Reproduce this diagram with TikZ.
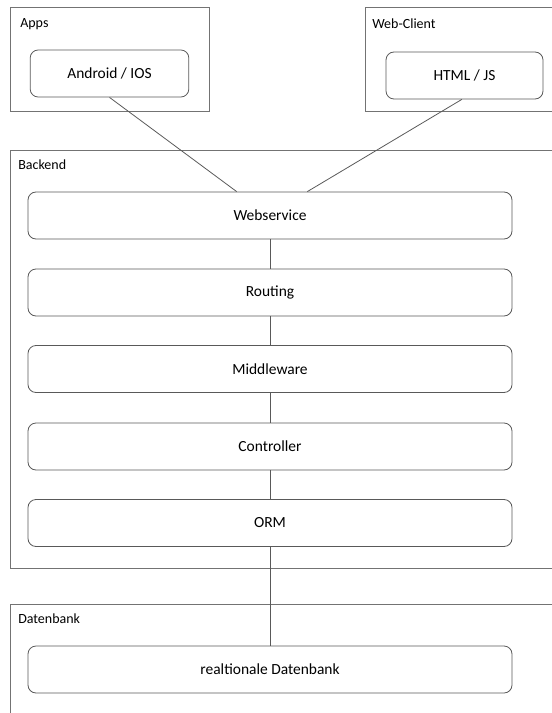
\documentclass[tikz,border=0pt]{standalone}
\usepackage{fontspec}
\setmainfont{Carlito}
\usepackage{xcolor}
\usepackage{tikz}
\usetikzlibrary{positioning,calc}

\definecolor{linegray}{gray}{0.35}
\definecolor{framegray}{gray}{0.45}

\begin{document}
\begin{tikzpicture}[
  x=0.75pt, y=-0.75pt,
  frame/.style={draw=framegray, line width=0.6pt, inner sep=0pt, anchor=north west},
  box/.style={draw=linegray, line width=0.6pt, rounded corners=6pt, minimum height=35.25pt, align=center, font=\fontsize{11.6}{13}\selectfont},
  widebox/.style={box, minimum width=363pt},
  smallbox/.style={box, minimum width=119pt},
  lab/.style={anchor=west, inner sep=0pt, font=\fontsize{10.5}{12}\selectfont},
  link/.style={draw=linegray, line width=0.6pt}
]
\useasboundingbox (0,0) rectangle (552,713);
\clip (0,0) rectangle (552,713);
\node[frame, minimum width=149.25pt, minimum height=78pt] (appsframe) at (10,7) {};
\node[frame, minimum width=150pt, minimum height=78pt] (webframe) at (365,7) {};
\node[frame, minimum width=420pt, minimum height=313.5pt] (backendframe) at (10,150) {};
\node[frame, minimum width=420pt, minimum height=120pt] (dbframe) at (10,604) {};
\node[lab] (appslab) at (20,24) {Apps};
\node[lab] (weblab) at (372,24) {Web-Client};
\node[lab] (backendlab) at (18,165) {Backend};
\node[lab] (dblab) at (18,619) {Datenbank};
\node[smallbox] (android) at (109.5,73.5) {Android / IOS};
\node[box, minimum width=117.75pt] (html) at (464.5,75.5) {HTML / JS};
\node[widebox] (webservice) at (270,215.5) {Webservice};
\node[widebox] (routing) at (270,292.5) {Routing};
\node[widebox] (middleware) at (270,369) {Middleware};
\node[widebox] (controller) at (270,446.5) {Controller};
\node[widebox] (orm) at (270,523) {ORM};
\node[widebox] (db) at (270,669.5) {realtionale Datenbank};
\draw[link] (android.south) -- ([xshift=-25pt]webservice.north);
\draw[link] ([xshift=-2pt]html.south) -- ([xshift=28pt]webservice.north);
\draw[link] (webservice) -- (routing);
\draw[link] (routing) -- (middleware);
\draw[link] (middleware) -- (controller);
\draw[link] (controller) -- (orm);
\draw[link] (orm) -- (db);
\end{tikzpicture}
\end{document}
